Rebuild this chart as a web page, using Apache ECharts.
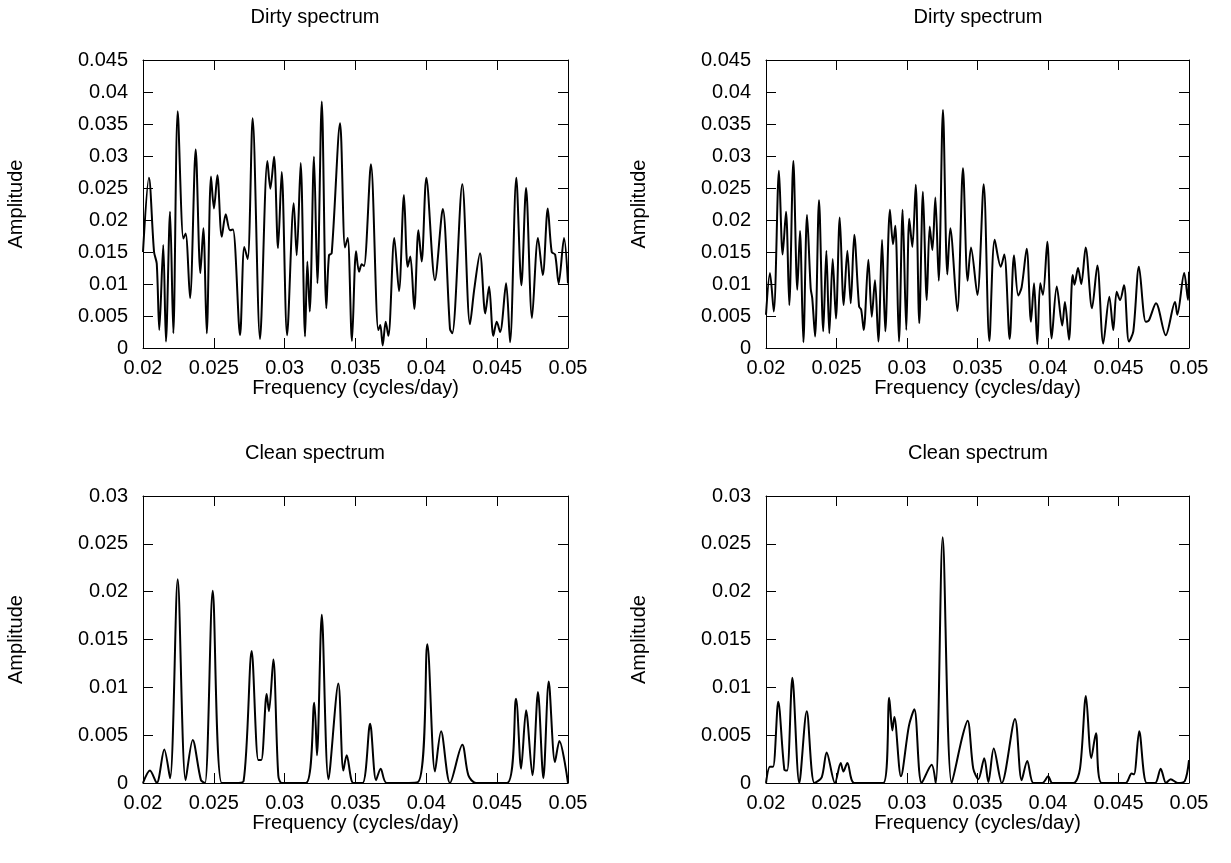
<!DOCTYPE html>
<html>
<head>
<meta charset="utf-8">
<title>Dirty / clean spectrum</title>
<script src="https://cdn.jsdelivr.net/npm/echarts@6/dist/echarts.min.js"></script>
<style>
  html, body { margin: 0; padding: 0; background: #fff; }
  #chart { width: 1231px; height: 863px; }
</style>
</head>
<body>
<div id="chart"></div>
<script>
// axis ranges / ticks
const freqMin = 0.02
const freqMax = 0.05
const freqStep = 0.005
const dirtyAmpMax = 0.045
const cleanAmpMax = 0.03
const ampStep = 0.005

// [frequency, amplitude] (peaks, troughs, shoulders)
const dirtyLeft = [
  [0.0200, 0.0150], [0.02042, 0.0266], [0.02078, 0.0150], [0.02097, 0.0132], [0.02115, 0.0028],
  [0.02143, 0.0161], [0.02162, 0.0010], [0.02191, 0.0213], [0.02214, 0.0023], [0.02245, 0.0370],
  [0.02285, 0.0171], [0.02301, 0.0179], [0.02332, 0.0078], [0.02372, 0.0310], [0.02405, 0.0117],
  [0.02426, 0.0187], [0.0245, 0.0023], [0.0248, 0.0268], [0.02501, 0.0218], [0.02525, 0.0270],
  [0.02556, 0.0174], [0.02584, 0.0209], [0.02614, 0.0184], [0.02635, 0.0185], [0.02685, 0.0020],
  [0.02715, 0.0158], [0.02739, 0.0139], [0.02774, 0.0359], [0.02826, 0.0014], [0.02878, 0.0292],
  [0.02899, 0.0249], [0.02925, 0.0299], [0.02953, 0.0156], [0.02979, 0.0275], [0.03017, 0.0020],
  [0.03064, 0.0226], [0.03085, 0.0145], [0.03113, 0.0289], [0.03144, 0.0018], [0.0316, 0.0135],
  [0.03177, 0.0057], [0.03207, 0.0299], [0.03231, 0.0101], [0.03262, 0.0385], [0.03294, 0.0062],
  [0.03313, 0.0145], [0.03332, 0.0148], [0.03391, 0.0351], [0.03426, 0.0157], [0.03445, 0.0172],
  [0.03475, 0.0011], [0.03504, 0.0151], [0.03525, 0.0119], [0.03544, 0.0131], [0.0356, 0.0128],
  [0.03609, 0.0287], [0.03661, 0.0028], [0.03675, 0.0036], [0.03692, 0.0004], [0.03713, 0.0041],
  [0.03732, 0.0019], [0.03774, 0.0172], [0.03807, 0.0089], [0.03842, 0.0239], [0.03868, 0.0127],
  [0.03887, 0.0143], [0.03915, 0.0061], [0.03944, 0.0184], [0.03967, 0.0135], [0.04, 0.0266],
  [0.04061, 0.0106], [0.04116, 0.0217], [0.04167, 0.0030], [0.04183, 0.0023], [0.04254, 0.0256],
  [0.04308, 0.0037], [0.04339, 0.0093], [0.04379, 0.0148], [0.04416, 0.0054], [0.04443, 0.0096],
  [0.04473, 0.0019], [0.04497, 0.0041], [0.04521, 0.0025], [0.04563, 0.0101], [0.04591, 0.0009],
  [0.04635, 0.0266], [0.04671, 0.0098], [0.04704, 0.0250], [0.04746, 0.0047], [0.04788, 0.0172],
  [0.04822, 0.0114], [0.04857, 0.0218], [0.04885, 0.0150], [0.04909, 0.0146], [0.04934, 0.0101],
  [0.04972, 0.0172], [0.0500, 0.0101]
]

const dirtyRight = [
  [0.0200, 0.0052], [0.02028, 0.0117], [0.02055, 0.0057], [0.02092, 0.0277], [0.02118, 0.0146],
  [0.02142, 0.0213], [0.02165, 0.0067], [0.02194, 0.0292], [0.02222, 0.0091], [0.02241, 0.0183],
  [0.02265, 0.0009], [0.02291, 0.0208], [0.02317, 0.0093], [0.02328, 0.0078], [0.02348, 0.0018],
  [0.02376, 0.0231], [0.02406, 0.0026], [0.02428, 0.0152], [0.02449, 0.0023], [0.02473, 0.0139],
  [0.02496, 0.0046], [0.02523, 0.0204], [0.02551, 0.0067], [0.02577, 0.0152], [0.02601, 0.0070],
  [0.02626, 0.0177], [0.0266, 0.0065], [0.02675, 0.0060], [0.02693, 0.0028], [0.02726, 0.0138],
  [0.0275, 0.0049], [0.02773, 0.0106], [0.02797, 0.0010], [0.02823, 0.0169], [0.02846, 0.0026],
  [0.02879, 0.0216], [0.02901, 0.0162], [0.02917, 0.0191], [0.02943, 0.0010], [0.02969, 0.0216],
  [0.02995, 0.0028], [0.03016, 0.0202], [0.03038, 0.0158], [0.03062, 0.0255], [0.03087, 0.0039],
  [0.03113, 0.0244], [0.0314, 0.0075], [0.03161, 0.0190], [0.0318, 0.0153], [0.03201, 0.0235],
  [0.03225, 0.0105], [0.03255, 0.0372], [0.03286, 0.0115], [0.03307, 0.0187], [0.03357, 0.0058],
  [0.03397, 0.0281], [0.0343, 0.0105], [0.03454, 0.0157], [0.03499, 0.0083], [0.03544, 0.0256],
  [0.03584, 0.0011], [0.03622, 0.0169], [0.03665, 0.0127], [0.0369, 0.0146], [0.03728, 0.0014],
  [0.03759, 0.0145], [0.03789, 0.0082], [0.03813, 0.0095], [0.03849, 0.0155], [0.03879, 0.0041],
  [0.03901, 0.0101], [0.03924, 0.0006], [0.03945, 0.0101], [0.03964, 0.0083], [0.03995, 0.0166],
  [0.04026, 0.0015], [0.04062, 0.0096], [0.04101, 0.0035], [0.0412, 0.0072], [0.04149, 0.0013],
  [0.04175, 0.0114], [0.04188, 0.0099], [0.04213, 0.0125], [0.04236, 0.0100], [0.04267, 0.0157],
  [0.04312, 0.0062], [0.0435, 0.0129], [0.04392, 0.0007], [0.04435, 0.0080], [0.04463, 0.0028],
  [0.04487, 0.0088], [0.04511, 0.0075], [0.04539, 0.0098], [0.04574, 0.0010], [0.04605, 0.0026],
  [0.04645, 0.0127], [0.04693, 0.0041], [0.04715, 0.0043], [0.04766, 0.0070], [0.04835, 0.0020],
  [0.04901, 0.0072], [0.04917, 0.0052], [0.04966, 0.0117], [0.04993, 0.0075], [0.0500, 0.0119]
]

const cleanLeft = [
  [0.0200, 0.0000], [0.02049, 0.0013], [0.02097, 0.0000], [0.0215, 0.0035], [0.02191, 0.0005],
  [0.02245, 0.0213], [0.02301, 0.0003], [0.02351, 0.0045], [0.02409, 0.0003], [0.02438, 0.0000],
  [0.02492, 0.0201], [0.02556, 0.0000], [0.0265, 0.0000], [0.0271, 0.0002], [0.02767, 0.0138],
  [0.02814, 0.0024], [0.02835, 0.0024], [0.02873, 0.0093], [0.02889, 0.0075], [0.0292, 0.0129],
  [0.02955, 0.0008], [0.0298, 0.0000], [0.0315, 0.0000], [0.03209, 0.0084], [0.03228, 0.0029],
  [0.03262, 0.0176], [0.03309, 0.0004], [0.03379, 0.0104], [0.03414, 0.0013], [0.03438, 0.0029],
  [0.03485, 0.0000], [0.0355, 0.0000], [0.03603, 0.0062], [0.03645, 0.0003], [0.03678, 0.0015],
  [0.0372, 0.0000], [0.0394, 0.0001], [0.04007, 0.0145], [0.04061, 0.0012], [0.04104, 0.0054],
  [0.04167, 0.0000], [0.04254, 0.0040], [0.04297, 0.0008], [0.0435, 0.0000], [0.0457, 0.0000],
  [0.04633, 0.0088], [0.04669, 0.0015], [0.04704, 0.0076], [0.04749, 0.0008], [0.04788, 0.0095],
  [0.04826, 0.0005], [0.04864, 0.0106], [0.04908, 0.0022], [0.04939, 0.0044], [0.0500, 0.0000]
]

const cleanRight = [
  [0.0200, 0.0000], [0.02028, 0.0017], [0.0205, 0.0017], [0.02087, 0.0085], [0.0213, 0.0014],
  [0.0215, 0.0013], [0.02187, 0.0110], [0.02236, 0.0000], [0.02289, 0.0075], [0.02343, 0.0000],
  [0.02395, 0.0006], [0.0243, 0.0032], [0.02489, 0.0000], [0.0253, 0.0021], [0.02549, 0.0012],
  [0.02577, 0.0021], [0.02626, 0.0000], [0.02832, 0.0000], [0.02874, 0.0089], [0.02896, 0.0055],
  [0.0291, 0.0069], [0.02957, 0.0007], [0.03014, 0.0060], [0.03052, 0.0077], [0.03104, 0.0000],
  [0.03175, 0.0019], [0.03204, 0.0000], [0.03253, 0.0257], [0.03317, 0.0000], [0.03392, 0.0048],
  [0.0343, 0.0065], [0.0347, 0.0015], [0.03506, 0.0004], [0.03548, 0.0026], [0.03577, 0.0001],
  [0.03615, 0.0036], [0.03672, 0.0000], [0.03766, 0.0067], [0.03813, 0.0003], [0.03853, 0.0023],
  [0.03896, 0.0000], [0.0396, 0.0000], [0.04002, 0.0007], [0.0403, 0.0000], [0.0418, 0.0000],
  [0.04227, 0.0015], [0.04269, 0.0091], [0.04307, 0.0026], [0.0434, 0.0052], [0.04381, 0.0000],
  [0.0455, 0.0000], [0.04593, 0.0010], [0.0461, 0.0009], [0.04647, 0.0054], [0.047, 0.0000],
  [0.0476, 0.0000], [0.04799, 0.0015], [0.04837, 0.0000], [0.0487, 0.0004], [0.0492, 0.0000],
  [0.0497, 0.0002], [0.0500, 0.0024]
]

const FONT = 'Liberation Sans'
const FONT_SIZE = 20

// box = [left, top, width, height], titleX = centre of the title text
const panels = [
  { title: 'Dirty spectrum', data: dirtyLeft, yMax: dirtyAmpMax, box: [143, 60, 425, 288], titleX: 315 },
  { title: 'Dirty spectrum', data: dirtyRight, yMax: dirtyAmpMax, box: [766, 60, 423, 288], titleX: 978 },
  { title: 'Clean spectrum', data: cleanLeft, yMax: cleanAmpMax, box: [143, 496, 425, 287], titleX: 315 },
  { title: 'Clean spectrum', data: cleanRight, yMax: cleanAmpMax, box: [766, 496, 423, 287], titleX: 978 },
]

const fmt = (v) => String(+v.toFixed(3))

const lineStyle = { color: '#000', width: 1 }
const tick = { inside: true, length: 10, lineStyle: { color: '#000', width: 1 } }
const label = { color: '#000', fontFamily: FONT, fontSize: FONT_SIZE, formatter: fmt }
const nameStyle = { color: '#000', fontFamily: FONT, fontSize: FONT_SIZE }

const grid = []
const xAxis = []
const yAxis = []
const series = []
const graphic = []

panels.forEach((p, i) => {
  const [left, top, width, height] = p.box
  grid.push({ left, top, width, height, containLabel: false })

  // bottom + mirrored top axis (gnuplot-style box, ticks on all sides)
  const xBase = { gridIndex: i, type: 'value', min: freqMin, max: freqMax, interval: freqStep,
    axisLine: { show: true, onZero: false, lineStyle }, axisTick: tick, splitLine: { show: false } }
  xAxis.push(Object.assign({}, xBase, {
    position: 'bottom',
    axisLabel: Object.assign({}, label, { margin: 10 }),
    name: 'Frequency (cycles/day)', nameLocation: 'middle', nameGap: 28,
    nameTextStyle: nameStyle,
  }))
  xAxis.push(Object.assign({}, xBase, { position: 'top', axisLabel: { show: false } }))

  const yBase = { gridIndex: i, type: 'value', min: 0, max: p.yMax, interval: ampStep,
    axisLine: { show: true, onZero: false, lineStyle }, axisTick: tick, splitLine: { show: false } }
  yAxis.push(Object.assign({}, yBase, {
    position: 'left',
    axisLabel: Object.assign({}, label, { margin: 15 }),
    name: 'Amplitude', nameLocation: 'middle', nameGap: 117, nameRotate: 90,
    nameTextStyle: nameStyle,
  }))
  yAxis.push(Object.assign({}, yBase, { position: 'right', axisLabel: { show: false } }))

  series.push({
    type: 'line',
    xAxisIndex: i * 2,
    yAxisIndex: i * 2,
    data: p.data,
    showSymbol: false,
    smooth: 0.3,
    clip: true,
    lineStyle: { color: '#000', width: 2 },
  })

  graphic.push({
    type: 'text',
    x: p.titleX,
    y: top - 43,
    style: { text: p.title, font: FONT_SIZE + 'px "' + FONT + '"', fill: '#000', textAlign: 'center', textVerticalAlign: 'middle' },
  })
})

const chart = echarts.init(document.getElementById('chart'), null, { renderer: 'canvas' })
chart.setOption({
  animation: false,
  backgroundColor: '#fff',
  grid,
  xAxis,
  yAxis,
  series,
  graphic,
})
</script>
</body>
</html>
